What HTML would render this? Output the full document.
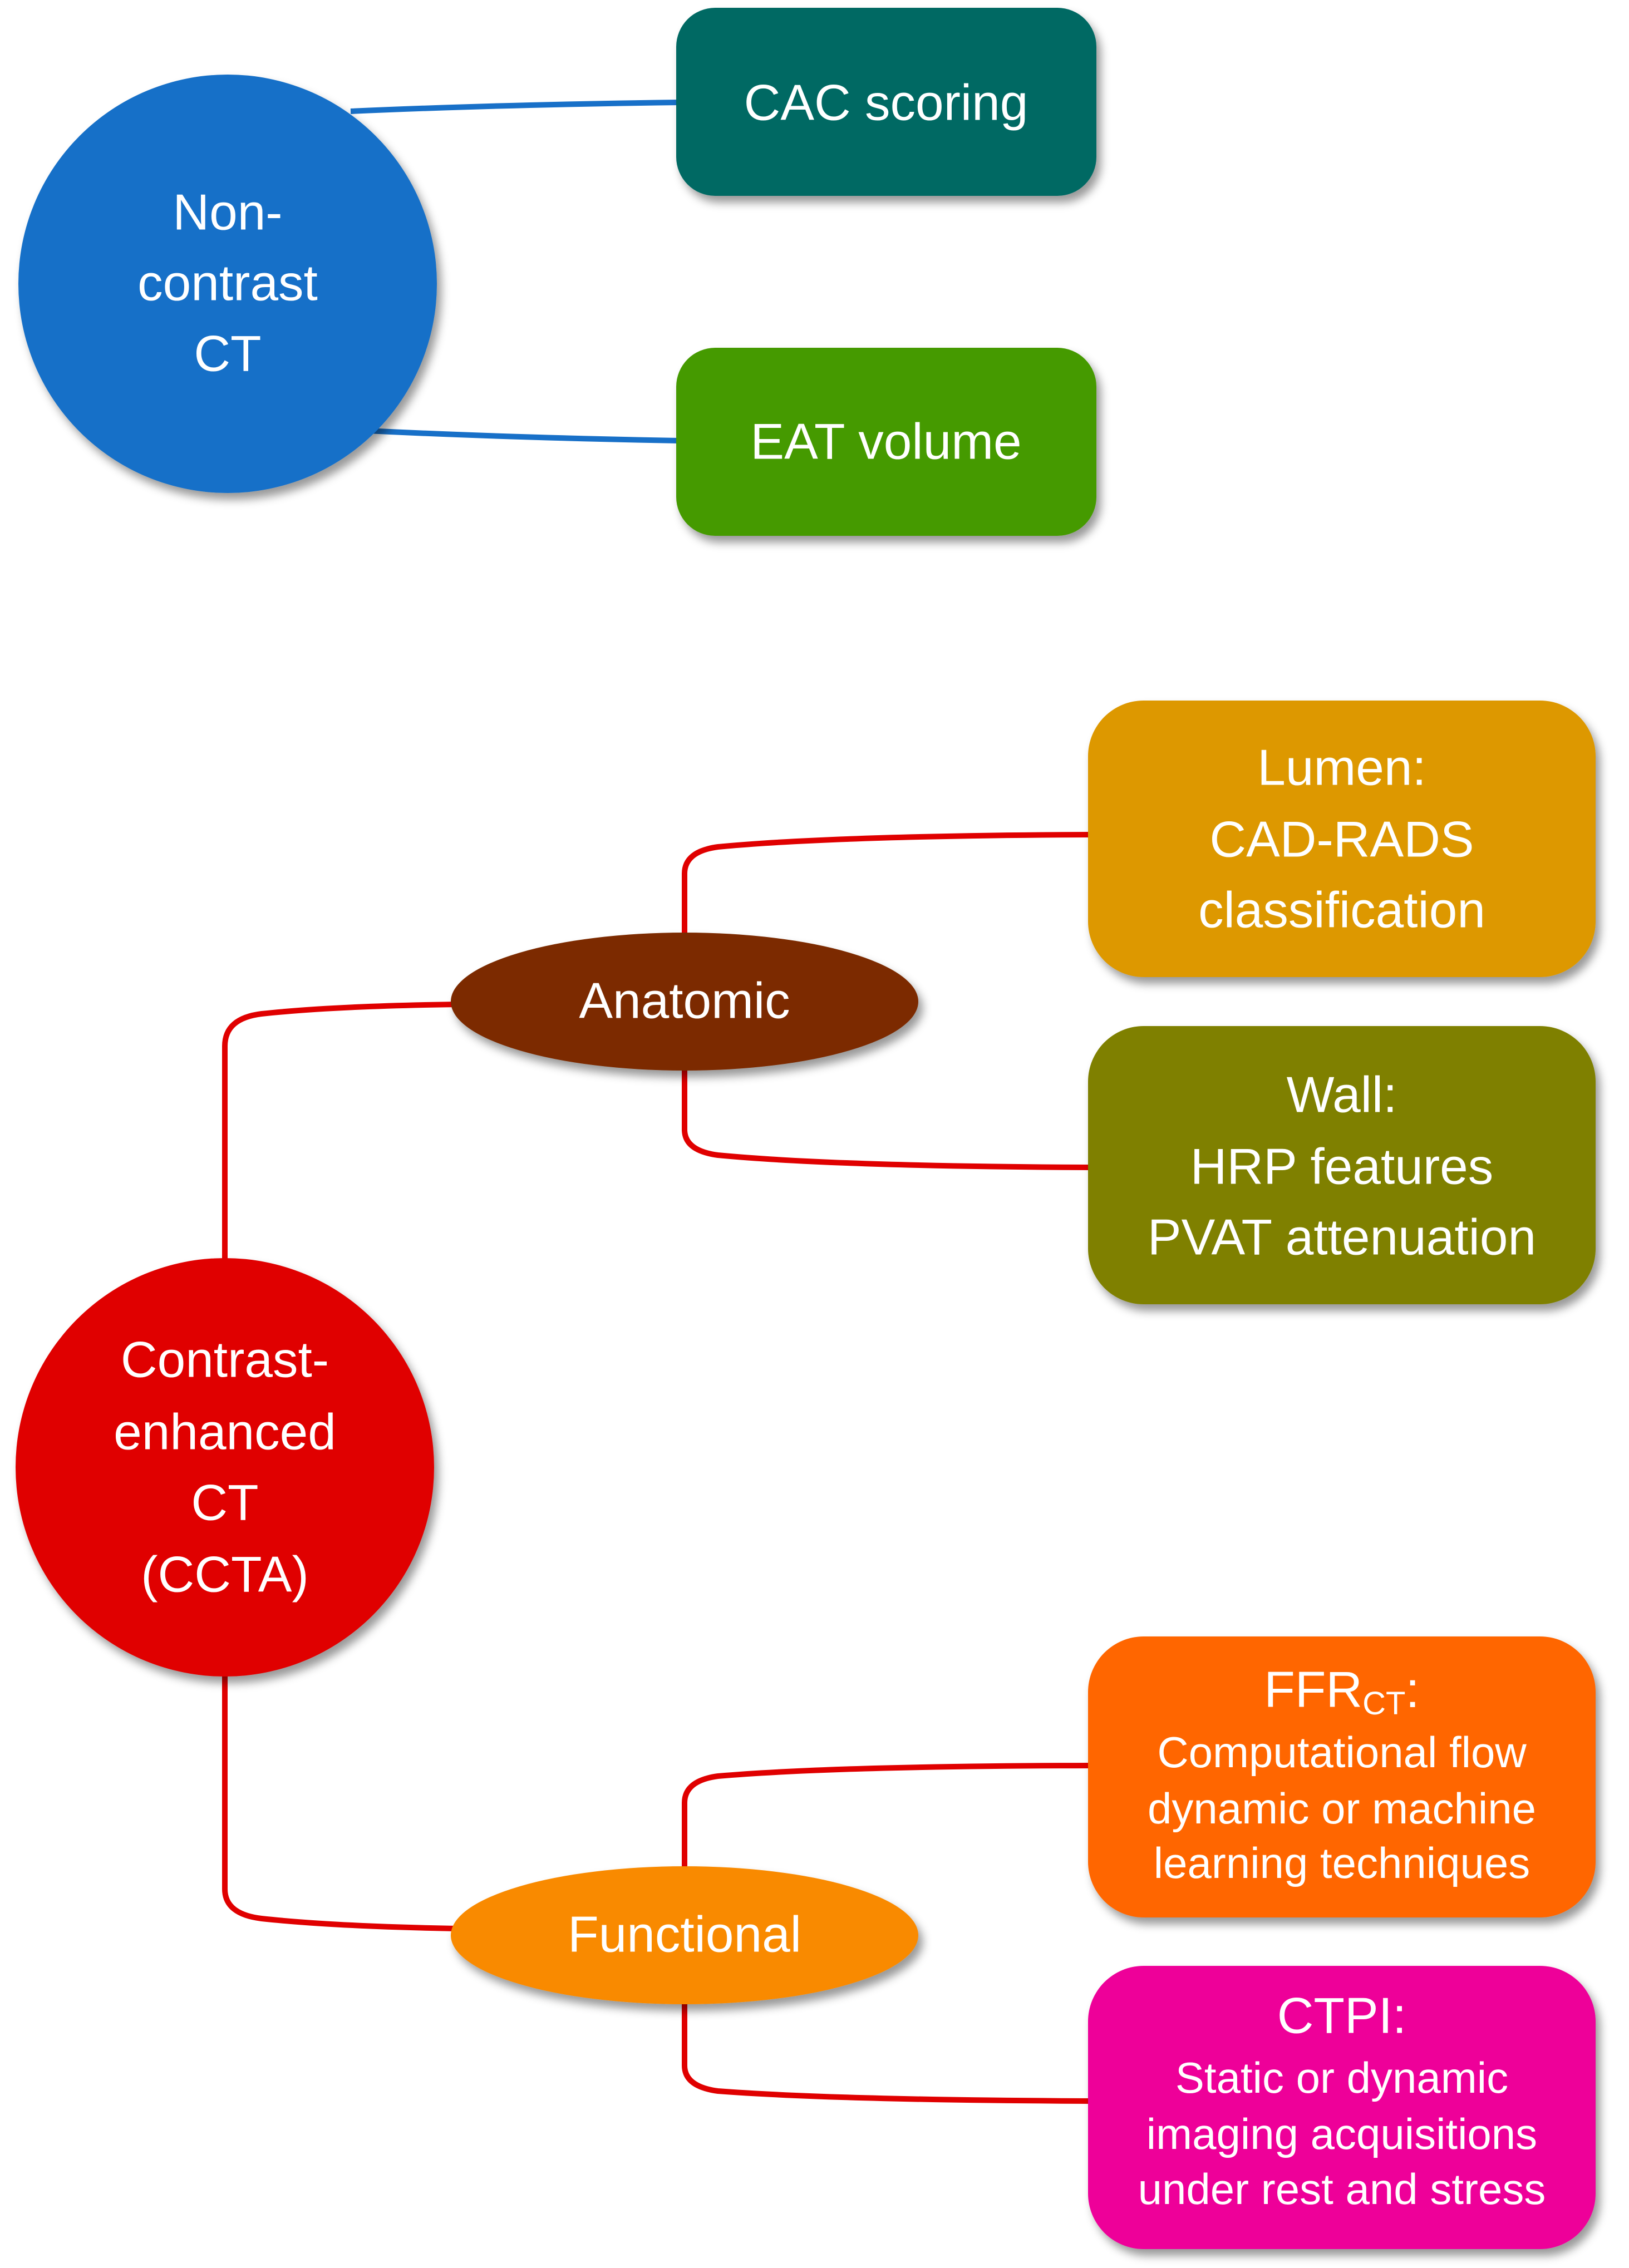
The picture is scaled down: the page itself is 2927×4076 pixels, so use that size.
<!DOCTYPE html>
<html><head><meta charset="utf-8"><style>
html,body{margin:0;padding:0;background:#fff;}
svg{display:block;}
text{font-family:"Liberation Sans",sans-serif;fill:#fff;text-anchor:middle;dominant-baseline:central;}
</style></head><body>
<svg width="2927" height="4076" viewBox="0 0 2927 4076" xmlns="http://www.w3.org/2000/svg">
<defs>
<filter id="sh" x="-10%" y="-10%" width="125%" height="130%">
<feDropShadow dx="8" dy="12" stdDeviation="8" flood-color="#000" flood-opacity="0.4"/>
</filter>
</defs>
<g stroke="#1870C8" stroke-width="10" fill="none">
<path d="M630 200 Q900 188 1220 184"/>
<path d="M660 774 Q900 786 1220 792"/>
</g>
<g stroke="#E00000" stroke-width="10" fill="none">
<path d="M404 2270 L404 1880 Q404 1830 470 1822 Q600 1808 820 1805"/>
<path d="M404 3000 L404 3395 Q404 3440 470 3448 Q600 3462 820 3466"/>
<path d="M1230 1680 L1230 1570 Q1230 1530 1290 1522 Q1500 1502 1960 1500"/>
<path d="M1230 1920 L1230 2030 Q1230 2068 1290 2076 Q1500 2096 1960 2098"/>
<path d="M1230 3356 L1230 3240 Q1230 3200 1290 3192 Q1500 3174 1960 3173"/>
<path d="M1230 3598 L1230 3712 Q1230 3750 1290 3758 Q1500 3774 1960 3776"/>
</g>
<g filter="url(#sh)">
<circle cx="409" cy="510" r="376" fill="#1570C8"/>
<rect x="1215" y="14" width="755" height="338" rx="70" fill="#006964"/>
<rect x="1215" y="625" width="755" height="338" rx="70" fill="#449A00"/>
<circle cx="404" cy="2637" r="376" fill="#E00000"/>
<ellipse cx="1230" cy="1800" rx="420" ry="124" fill="#7B2C00"/>
<ellipse cx="1230" cy="3478" rx="420" ry="124" fill="#F98A00"/>
<rect x="1955" y="1259" width="912" height="497" rx="100" fill="#DD9800"/>
<rect x="1955" y="1844" width="912" height="500" rx="100" fill="#7F8000"/>
<rect x="1955" y="2941" width="912" height="505" rx="100" fill="#FF6600"/>
<rect x="1955" y="3533" width="912" height="509" rx="100" fill="#EE0099"/>
</g>
<g font-size="91">
<text x="409" y="382">Non-</text>
<text x="409" y="509">contrast</text>
<text x="409" y="636">CT</text>
<text x="1592" y="185">CAC scoring</text>
<text x="1592" y="794">EAT volume</text>
<text x="404" y="2444">Contrast-</text>
<text x="404" y="2574">enhanced</text>
<text x="404" y="2701">CT</text>
<text x="404" y="2830">(CCTA)</text>
<text x="1230" y="1799">Anatomic</text>
<text x="1230" y="3477">Functional</text>
<text x="2411" y="1380">Lumen:</text>
<text x="2411" y="1509">CAD-RADS</text>
<text x="2411" y="1636">classification</text>
<text x="2411" y="1968">Wall:</text>
<text x="2411" y="2097">HRP features</text>
<text x="2411" y="2224">PVAT attenuation</text>
<text x="2411" y="3037">FFR<tspan font-size="58" dy="24">CT</tspan><tspan dy="-24">:</tspan></text>
<text x="2411" y="3623">CTPI:</text>
</g>
<g font-size="78">
<text x="2411" y="3149">Computational flow</text>
<text x="2411" y="3250">dynamic or machine</text>
<text x="2411" y="3348">learning techniques</text>
<text x="2411" y="3734">Static or dynamic</text>
<text x="2411" y="3835">imaging acquisitions</text>
<text x="2411" y="3934">under rest and stress</text>
</g>
</svg>
</body></html>
